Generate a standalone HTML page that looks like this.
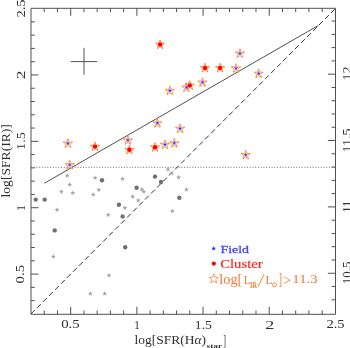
<!DOCTYPE html>
<html><head><meta charset="utf-8"><style>
html,body{margin:0;padding:0;background:#fff;width:350px;height:348px;overflow:hidden;}
svg{display:block;will-change:transform;}
text{font-family:"Liberation Serif",serif;}
</style></head><body>
<svg width="350" height="348" viewBox="0 0 350 348"><path d="M44.23 314.3V310.5M44.23 8.3V12.1M31 300.63H34.8M335.4 299.83H331.6M57.47 314.3V310.5M57.47 8.3V12.1M31 287.35H34.8M335.4 286.55H331.6M70.7 314.3V306.8M70.7 8.3V15.8M31 274.08H38.5M335.4 273.28H327.9M83.94 314.3V310.5M83.94 8.3V12.1M31 260.8H34.8M335.4 260H331.6M97.17 314.3V310.5M97.17 8.3V12.1M31 247.53H34.8M335.4 246.73H331.6M110.41 314.3V310.5M110.41 8.3V12.1M31 234.26H34.8M335.4 233.46H331.6M123.64 314.3V310.5M123.64 8.3V12.1M31 220.98H34.8M335.4 220.18H331.6M136.88 314.3V306.8M136.88 8.3V15.8M31 207.71H38.5M335.4 206.91H327.9M150.11 314.3V310.5M150.11 8.3V12.1M31 194.43H34.8M335.4 193.63H331.6M163.35 314.3V310.5M163.35 8.3V12.1M31 181.16H34.8M335.4 180.36H331.6M176.58 314.3V310.5M176.58 8.3V12.1M31 167.89H34.8M335.4 167.09H331.6M189.82 314.3V310.5M189.82 8.3V12.1M31 154.61H34.8M335.4 153.81H331.6M203.05 314.3V306.8M203.05 8.3V15.8M31 141.34H38.5M335.4 140.54H327.9M216.29 314.3V310.5M216.29 8.3V12.1M31 128.07H34.8M335.4 127.27H331.6M229.52 314.3V310.5M229.52 8.3V12.1M31 114.79H34.8M335.4 113.99H331.6M242.76 314.3V310.5M242.76 8.3V12.1M31 101.52H34.8M335.4 100.72H331.6M255.99 314.3V310.5M255.99 8.3V12.1M31 88.24H34.8M335.4 87.44H331.6M269.23 314.3V306.8M269.23 8.3V15.8M31 74.97H38.5M335.4 74.17H327.9M282.46 314.3V310.5M282.46 8.3V12.1M31 61.7H34.8M335.4 60.9H331.6M295.7 314.3V310.5M295.7 8.3V12.1M31 48.42H34.8M335.4 47.62H331.6M308.93 314.3V310.5M308.93 8.3V12.1M31 35.15H34.8M335.4 34.35H331.6M322.17 314.3V310.5M322.17 8.3V12.1M31 21.87H34.8M335.4 21.07H331.6" stroke="#505050" stroke-width="1" fill="none"/>
<path d="M31.0 8.3H335.5V314.3H31.0Z" fill="none" stroke="#505050" stroke-width="1"/>
<line x1="30.93" y1="167.3" x2="335.4" y2="167.3" stroke="#6a6a6a" stroke-width="1" stroke-dasharray="1 1.735"/>
<line x1="31.0" y1="313.9" x2="335.4" y2="8.6" stroke="#333" stroke-width="1" stroke-dasharray="5.4 3.1"/>
<line x1="44.3" y1="183.3" x2="318.3" y2="25.5" stroke="#505050" stroke-width="1"/>
<path d="M70.7 61.6H97.2M84 47.8V74.8" stroke="#555" stroke-width="1" fill="none"/>
<polygon points="67.2,173 67.85,174.71 69.67,174.8 68.25,175.94 68.73,177.7 67.2,176.7 65.67,177.7 66.15,175.94 64.73,174.8 66.55,174.71" fill="#a6a6a6"/>
<polygon points="69.7,182.1 70.35,183.81 72.17,183.9 70.75,185.04 71.23,186.8 69.7,185.8 68.17,186.8 68.65,185.04 67.23,183.9 69.05,183.81" fill="#a6a6a6"/>
<polygon points="61.4,189 62.05,190.71 63.87,190.8 62.45,191.94 62.93,193.7 61.4,192.7 59.87,193.7 60.35,191.94 58.93,190.8 60.75,190.71" fill="#a6a6a6"/>
<polygon points="72.8,190.3 73.45,192.01 75.27,192.1 73.85,193.24 74.33,195 72.8,194 71.27,195 71.75,193.24 70.33,192.1 72.15,192.01" fill="#a6a6a6"/>
<polygon points="95.1,175.3 95.75,177.01 97.57,177.1 96.15,178.24 96.63,180 95.1,179 93.57,180 94.05,178.24 92.63,177.1 94.45,177.01" fill="#a6a6a6"/>
<polygon points="98.8,187.4 99.45,189.11 101.27,189.2 99.85,190.34 100.33,192.1 98.8,191.1 97.27,192.1 97.75,190.34 96.33,189.2 98.15,189.11" fill="#a6a6a6"/>
<polygon points="93.2,192.1 93.85,193.81 95.67,193.9 94.25,195.04 94.73,196.8 93.2,195.8 91.67,196.8 92.15,195.04 90.73,193.9 92.55,193.81" fill="#a6a6a6"/>
<polygon points="57,207.2 57.65,208.91 59.47,209 58.05,210.14 58.53,211.9 57,210.9 55.47,211.9 55.95,210.14 54.53,209 56.35,208.91" fill="#a6a6a6"/>
<polygon points="108.2,212.2 108.85,213.91 110.67,214 109.25,215.14 109.73,216.9 108.2,215.9 106.67,216.9 107.15,215.14 105.73,214 107.55,213.91" fill="#a6a6a6"/>
<polygon points="122.5,176.3 123.15,178.01 124.97,178.1 123.55,179.24 124.03,181 122.5,180 120.97,181 121.45,179.24 120.03,178.1 121.85,178.01" fill="#a6a6a6"/>
<polygon points="141.8,186.7 142.45,188.41 144.27,188.5 142.85,189.64 143.33,191.4 141.8,190.4 140.27,191.4 140.75,189.64 139.33,188.5 141.15,188.41" fill="#a6a6a6"/>
<polygon points="143.7,189.1 144.35,190.81 146.17,190.9 144.75,192.04 145.23,193.8 143.7,192.8 142.17,193.8 142.65,192.04 141.23,190.9 143.05,190.81" fill="#a6a6a6"/>
<polygon points="132.7,194 133.35,195.71 135.17,195.8 133.75,196.94 134.23,198.7 132.7,197.7 131.17,198.7 131.65,196.94 130.23,195.8 132.05,195.71" fill="#a6a6a6"/>
<polygon points="138.2,197.8 138.85,199.51 140.67,199.6 139.25,200.74 139.73,202.5 138.2,201.5 136.67,202.5 137.15,200.74 135.73,199.6 137.55,199.51" fill="#a6a6a6"/>
<polygon points="124.9,205.2 125.55,206.91 127.37,207 125.95,208.14 126.43,209.9 124.9,208.9 123.37,209.9 123.85,208.14 122.43,207 124.25,206.91" fill="#a6a6a6"/>
<polygon points="168,166.8 168.65,168.51 170.47,168.6 169.05,169.74 169.53,171.5 168,170.5 166.47,171.5 166.95,169.74 165.53,168.6 167.35,168.51" fill="#a6a6a6"/>
<polygon points="171.5,170.9 172.15,172.61 173.97,172.7 172.55,173.84 173.03,175.6 171.5,174.6 169.97,175.6 170.45,173.84 169.03,172.7 170.85,172.61" fill="#a6a6a6"/>
<polygon points="178.6,174.7 179.25,176.41 181.07,176.5 179.65,177.64 180.13,179.4 178.6,178.4 177.07,179.4 177.55,177.64 176.13,176.5 177.95,176.41" fill="#a6a6a6"/>
<polygon points="186.4,187 187.05,188.71 188.87,188.8 187.45,189.94 187.93,191.7 186.4,190.7 184.87,191.7 185.35,189.94 183.93,188.8 185.75,188.71" fill="#a6a6a6"/>
<polygon points="172.3,208.5 172.95,210.21 174.77,210.3 173.35,211.44 173.83,213.2 172.3,212.2 170.77,213.2 171.25,211.44 169.83,210.3 171.65,210.21" fill="#a6a6a6"/>
<polygon points="53.3,254.1 53.95,255.81 55.77,255.9 54.35,257.04 54.83,258.8 53.3,257.8 51.77,258.8 52.25,257.04 50.83,255.9 52.65,255.81" fill="#a6a6a6"/>
<polygon points="109,272.7 109.65,274.41 111.47,274.5 110.05,275.64 110.53,277.4 109,276.4 107.47,277.4 107.95,275.64 106.53,274.5 108.35,274.41" fill="#a6a6a6"/>
<polygon points="90.3,291.1 90.95,292.81 92.77,292.9 91.35,294.04 91.83,295.8 90.3,294.8 88.77,295.8 89.25,294.04 87.83,292.9 89.65,292.81" fill="#a6a6a6"/>
<polygon points="104.7,291.1 105.35,292.81 107.17,292.9 105.75,294.04 106.23,295.8 104.7,294.8 103.17,295.8 103.65,294.04 102.23,292.9 104.05,292.81" fill="#a6a6a6"/>
<circle cx="35.7" cy="199.6" r="2.2" fill="#707070"/>
<circle cx="44.7" cy="199.6" r="2.2" fill="#707070"/>
<circle cx="54.7" cy="230.4" r="2.2" fill="#707070"/>
<circle cx="102" cy="180.3" r="2.2" fill="#707070"/>
<circle cx="136.6" cy="187.8" r="2.2" fill="#707070"/>
<circle cx="118.9" cy="204.8" r="2.2" fill="#707070"/>
<circle cx="122.6" cy="216.4" r="2.2" fill="#707070"/>
<circle cx="125.2" cy="247.3" r="2.2" fill="#707070"/>
<circle cx="155" cy="176.6" r="2.2" fill="#707070"/>
<circle cx="161" cy="182" r="2.2" fill="#707070"/>
<circle cx="179.3" cy="197.8" r="2.2" fill="#707070"/>
<polygon points="67.9,139.1 69.13,141.9 72.18,142.21 69.9,144.25 70.55,147.24 67.9,145.7 65.25,147.24 65.9,144.25 63.62,142.21 66.67,141.9" fill="#ffebde" stroke="#ff8438" stroke-width="0.75" stroke-linejoin="round"/>
<circle cx="67.9" cy="139.3" r="0.7" fill="#ff8438"/>
<circle cx="71.99" cy="142.27" r="0.7" fill="#ff8438"/>
<circle cx="70.43" cy="147.08" r="0.7" fill="#ff8438"/>
<circle cx="65.37" cy="147.08" r="0.7" fill="#ff8438"/>
<circle cx="63.81" cy="142.27" r="0.7" fill="#ff8438"/>
<polygon points="69.7,160.6 70.93,163.4 73.98,163.71 71.7,165.75 72.35,168.74 69.7,167.2 67.05,168.74 67.7,165.75 65.42,163.71 68.47,163.4" fill="#ffebde" stroke="#ff8438" stroke-width="0.75" stroke-linejoin="round"/>
<circle cx="69.7" cy="160.8" r="0.7" fill="#ff8438"/>
<circle cx="73.79" cy="163.77" r="0.7" fill="#ff8438"/>
<circle cx="72.23" cy="168.58" r="0.7" fill="#ff8438"/>
<circle cx="67.17" cy="168.58" r="0.7" fill="#ff8438"/>
<circle cx="65.61" cy="163.77" r="0.7" fill="#ff8438"/>
<polygon points="127.9,135.9 129.13,138.7 132.18,139.01 129.9,141.05 130.55,144.04 127.9,142.5 125.25,144.04 125.9,141.05 123.62,139.01 126.67,138.7" fill="#ffebde" stroke="#ff8438" stroke-width="0.75" stroke-linejoin="round"/>
<circle cx="127.9" cy="136.1" r="0.7" fill="#ff8438"/>
<circle cx="131.99" cy="139.07" r="0.7" fill="#ff8438"/>
<circle cx="130.43" cy="143.88" r="0.7" fill="#ff8438"/>
<circle cx="125.37" cy="143.88" r="0.7" fill="#ff8438"/>
<circle cx="123.81" cy="139.07" r="0.7" fill="#ff8438"/>
<polygon points="157.4,118.8 158.63,121.6 161.68,121.91 159.4,123.95 160.05,126.94 157.4,125.4 154.75,126.94 155.4,123.95 153.12,121.91 156.17,121.6" fill="#ffebde" stroke="#ff8438" stroke-width="0.75" stroke-linejoin="round"/>
<circle cx="157.4" cy="119" r="0.7" fill="#ff8438"/>
<circle cx="161.49" cy="121.97" r="0.7" fill="#ff8438"/>
<circle cx="159.93" cy="126.78" r="0.7" fill="#ff8438"/>
<circle cx="154.87" cy="126.78" r="0.7" fill="#ff8438"/>
<circle cx="153.31" cy="121.97" r="0.7" fill="#ff8438"/>
<polygon points="165,140.3 166.23,143.1 169.28,143.41 167,145.45 167.65,148.44 165,146.9 162.35,148.44 163,145.45 160.72,143.41 163.77,143.1" fill="#ffebde" stroke="#ff8438" stroke-width="0.75" stroke-linejoin="round"/>
<circle cx="165" cy="140.5" r="0.7" fill="#ff8438"/>
<circle cx="169.09" cy="143.47" r="0.7" fill="#ff8438"/>
<circle cx="167.53" cy="148.28" r="0.7" fill="#ff8438"/>
<circle cx="162.47" cy="148.28" r="0.7" fill="#ff8438"/>
<circle cx="160.91" cy="143.47" r="0.7" fill="#ff8438"/>
<polygon points="174.3,138.8 175.53,141.6 178.58,141.91 176.3,143.95 176.95,146.94 174.3,145.4 171.65,146.94 172.3,143.95 170.02,141.91 173.07,141.6" fill="#ffebde" stroke="#ff8438" stroke-width="0.75" stroke-linejoin="round"/>
<circle cx="174.3" cy="139" r="0.7" fill="#ff8438"/>
<circle cx="178.39" cy="141.97" r="0.7" fill="#ff8438"/>
<circle cx="176.83" cy="146.78" r="0.7" fill="#ff8438"/>
<circle cx="171.77" cy="146.78" r="0.7" fill="#ff8438"/>
<circle cx="170.21" cy="141.97" r="0.7" fill="#ff8438"/>
<polygon points="180.1,124.3 181.33,127.1 184.38,127.41 182.1,129.45 182.75,132.44 180.1,130.9 177.45,132.44 178.1,129.45 175.82,127.41 178.87,127.1" fill="#ffebde" stroke="#ff8438" stroke-width="0.75" stroke-linejoin="round"/>
<circle cx="180.1" cy="124.5" r="0.7" fill="#ff8438"/>
<circle cx="184.19" cy="127.47" r="0.7" fill="#ff8438"/>
<circle cx="182.63" cy="132.28" r="0.7" fill="#ff8438"/>
<circle cx="177.57" cy="132.28" r="0.7" fill="#ff8438"/>
<circle cx="176.01" cy="127.47" r="0.7" fill="#ff8438"/>
<polygon points="169.9,86.3 171.13,89.1 174.18,89.41 171.9,91.45 172.55,94.44 169.9,92.9 167.25,94.44 167.9,91.45 165.62,89.41 168.67,89.1" fill="#ffebde" stroke="#ff8438" stroke-width="0.75" stroke-linejoin="round"/>
<circle cx="169.9" cy="86.5" r="0.7" fill="#ff8438"/>
<circle cx="173.99" cy="89.47" r="0.7" fill="#ff8438"/>
<circle cx="172.43" cy="94.28" r="0.7" fill="#ff8438"/>
<circle cx="167.37" cy="94.28" r="0.7" fill="#ff8438"/>
<circle cx="165.81" cy="89.47" r="0.7" fill="#ff8438"/>
<polygon points="186.4,83.1 187.63,85.9 190.68,86.21 188.4,88.25 189.05,91.24 186.4,89.7 183.75,91.24 184.4,88.25 182.12,86.21 185.17,85.9" fill="#ffebde" stroke="#ff8438" stroke-width="0.75" stroke-linejoin="round"/>
<circle cx="186.4" cy="83.3" r="0.7" fill="#ff8438"/>
<circle cx="190.49" cy="86.27" r="0.7" fill="#ff8438"/>
<circle cx="188.93" cy="91.08" r="0.7" fill="#ff8438"/>
<circle cx="183.87" cy="91.08" r="0.7" fill="#ff8438"/>
<circle cx="182.31" cy="86.27" r="0.7" fill="#ff8438"/>
<polygon points="202.5,78 203.73,80.8 206.78,81.11 204.5,83.15 205.15,86.14 202.5,84.6 199.85,86.14 200.5,83.15 198.22,81.11 201.27,80.8" fill="#ffebde" stroke="#ff8438" stroke-width="0.75" stroke-linejoin="round"/>
<circle cx="202.5" cy="78.2" r="0.7" fill="#ff8438"/>
<circle cx="206.59" cy="81.17" r="0.7" fill="#ff8438"/>
<circle cx="205.03" cy="85.98" r="0.7" fill="#ff8438"/>
<circle cx="199.97" cy="85.98" r="0.7" fill="#ff8438"/>
<circle cx="198.41" cy="81.17" r="0.7" fill="#ff8438"/>
<polygon points="236,63.9 237.23,66.7 240.28,67.01 238,69.05 238.65,72.04 236,70.5 233.35,72.04 234,69.05 231.72,67.01 234.77,66.7" fill="#ffebde" stroke="#ff8438" stroke-width="0.75" stroke-linejoin="round"/>
<circle cx="236" cy="64.1" r="0.7" fill="#ff8438"/>
<circle cx="240.09" cy="67.07" r="0.7" fill="#ff8438"/>
<circle cx="238.53" cy="71.88" r="0.7" fill="#ff8438"/>
<circle cx="233.47" cy="71.88" r="0.7" fill="#ff8438"/>
<circle cx="231.91" cy="67.07" r="0.7" fill="#ff8438"/>
<polygon points="239.9,49.1 241.13,51.9 244.18,52.21 241.9,54.25 242.55,57.24 239.9,55.7 237.25,57.24 237.9,54.25 235.62,52.21 238.67,51.9" fill="#ffebde" stroke="#ff8438" stroke-width="0.75" stroke-linejoin="round"/>
<circle cx="239.9" cy="49.3" r="0.7" fill="#ff8438"/>
<circle cx="243.99" cy="52.27" r="0.7" fill="#ff8438"/>
<circle cx="242.43" cy="57.08" r="0.7" fill="#ff8438"/>
<circle cx="237.37" cy="57.08" r="0.7" fill="#ff8438"/>
<circle cx="235.81" cy="52.27" r="0.7" fill="#ff8438"/>
<polygon points="258.7,69.2 259.93,72 262.98,72.31 260.7,74.35 261.35,77.34 258.7,75.8 256.05,77.34 256.7,74.35 254.42,72.31 257.47,72" fill="#ffebde" stroke="#ff8438" stroke-width="0.75" stroke-linejoin="round"/>
<circle cx="258.7" cy="69.4" r="0.7" fill="#ff8438"/>
<circle cx="262.79" cy="72.37" r="0.7" fill="#ff8438"/>
<circle cx="261.23" cy="77.18" r="0.7" fill="#ff8438"/>
<circle cx="256.17" cy="77.18" r="0.7" fill="#ff8438"/>
<circle cx="254.61" cy="72.37" r="0.7" fill="#ff8438"/>
<polygon points="245.7,150.6 246.93,153.4 249.98,153.71 247.7,155.75 248.35,158.74 245.7,157.2 243.05,158.74 243.7,155.75 241.42,153.71 244.47,153.4" fill="#ffebde" stroke="#ff8438" stroke-width="0.75" stroke-linejoin="round"/>
<circle cx="245.7" cy="150.8" r="0.7" fill="#ff8438"/>
<circle cx="249.79" cy="153.77" r="0.7" fill="#ff8438"/>
<circle cx="248.23" cy="158.58" r="0.7" fill="#ff8438"/>
<circle cx="243.17" cy="158.58" r="0.7" fill="#ff8438"/>
<circle cx="241.61" cy="153.77" r="0.7" fill="#ff8438"/>
<polygon points="95,142.3 96.23,145.1 99.28,145.41 97,147.45 97.65,150.44 95,148.9 92.35,150.44 93,147.45 90.72,145.41 93.77,145.1" fill="#ffebde" stroke="#ff8438" stroke-width="0.75" stroke-linejoin="round"/>
<circle cx="95" cy="142.5" r="0.7" fill="#ff8438"/>
<circle cx="99.09" cy="145.47" r="0.7" fill="#ff8438"/>
<circle cx="97.53" cy="150.28" r="0.7" fill="#ff8438"/>
<circle cx="92.47" cy="150.28" r="0.7" fill="#ff8438"/>
<circle cx="90.91" cy="145.47" r="0.7" fill="#ff8438"/>
<polygon points="129.4,145.5 130.63,148.3 133.68,148.61 131.4,150.65 132.05,153.64 129.4,152.1 126.75,153.64 127.4,150.65 125.12,148.61 128.17,148.3" fill="#ffebde" stroke="#ff8438" stroke-width="0.75" stroke-linejoin="round"/>
<circle cx="129.4" cy="145.7" r="0.7" fill="#ff8438"/>
<circle cx="133.49" cy="148.67" r="0.7" fill="#ff8438"/>
<circle cx="131.93" cy="153.48" r="0.7" fill="#ff8438"/>
<circle cx="126.87" cy="153.48" r="0.7" fill="#ff8438"/>
<circle cx="125.31" cy="148.67" r="0.7" fill="#ff8438"/>
<polygon points="155,142.9 156.23,145.7 159.28,146.01 157,148.05 157.65,151.04 155,149.5 152.35,151.04 153,148.05 150.72,146.01 153.77,145.7" fill="#ffebde" stroke="#ff8438" stroke-width="0.75" stroke-linejoin="round"/>
<circle cx="155" cy="143.1" r="0.7" fill="#ff8438"/>
<circle cx="159.09" cy="146.07" r="0.7" fill="#ff8438"/>
<circle cx="157.53" cy="150.88" r="0.7" fill="#ff8438"/>
<circle cx="152.47" cy="150.88" r="0.7" fill="#ff8438"/>
<circle cx="150.91" cy="146.07" r="0.7" fill="#ff8438"/>
<polygon points="160.1,40.2 161.33,43 164.38,43.31 162.1,45.35 162.75,48.34 160.1,46.8 157.45,48.34 158.1,45.35 155.82,43.31 158.87,43" fill="#ffebde" stroke="#ff8438" stroke-width="0.75" stroke-linejoin="round"/>
<circle cx="160.1" cy="40.4" r="0.7" fill="#ff8438"/>
<circle cx="164.19" cy="43.37" r="0.7" fill="#ff8438"/>
<circle cx="162.63" cy="48.18" r="0.7" fill="#ff8438"/>
<circle cx="157.57" cy="48.18" r="0.7" fill="#ff8438"/>
<circle cx="156.01" cy="43.37" r="0.7" fill="#ff8438"/>
<polygon points="189.8,81.1 191.03,83.9 194.08,84.21 191.8,86.25 192.45,89.24 189.8,87.7 187.15,89.24 187.8,86.25 185.52,84.21 188.57,83.9" fill="#ffebde" stroke="#ff8438" stroke-width="0.75" stroke-linejoin="round"/>
<circle cx="189.8" cy="81.3" r="0.7" fill="#ff8438"/>
<circle cx="193.89" cy="84.27" r="0.7" fill="#ff8438"/>
<circle cx="192.33" cy="89.08" r="0.7" fill="#ff8438"/>
<circle cx="187.27" cy="89.08" r="0.7" fill="#ff8438"/>
<circle cx="185.71" cy="84.27" r="0.7" fill="#ff8438"/>
<polygon points="205,63.6 206.23,66.4 209.28,66.71 207,68.75 207.65,71.74 205,70.2 202.35,71.74 203,68.75 200.72,66.71 203.77,66.4" fill="#ffebde" stroke="#ff8438" stroke-width="0.75" stroke-linejoin="round"/>
<circle cx="205" cy="63.8" r="0.7" fill="#ff8438"/>
<circle cx="209.09" cy="66.77" r="0.7" fill="#ff8438"/>
<circle cx="207.53" cy="71.58" r="0.7" fill="#ff8438"/>
<circle cx="202.47" cy="71.58" r="0.7" fill="#ff8438"/>
<circle cx="200.91" cy="66.77" r="0.7" fill="#ff8438"/>
<polygon points="220.1,63.6 221.33,66.4 224.38,66.71 222.1,68.75 222.75,71.74 220.1,70.2 217.45,71.74 218.1,68.75 215.82,66.71 218.87,66.4" fill="#ffebde" stroke="#ff8438" stroke-width="0.75" stroke-linejoin="round"/>
<circle cx="220.1" cy="63.8" r="0.7" fill="#ff8438"/>
<circle cx="224.19" cy="66.77" r="0.7" fill="#ff8438"/>
<circle cx="222.63" cy="71.58" r="0.7" fill="#ff8438"/>
<circle cx="217.57" cy="71.58" r="0.7" fill="#ff8438"/>
<circle cx="216.01" cy="66.77" r="0.7" fill="#ff8438"/>
<polygon points="67.9,141.45 68.43,142.67 69.75,142.8 68.76,143.68 69.05,144.98 67.9,144.3 66.75,144.98 67.04,143.68 66.05,142.8 67.37,142.67" fill="#2a2aff" stroke="#8c8cff" stroke-width="0.35"/>
<polygon points="69.7,162.95 70.23,164.17 71.55,164.3 70.56,165.18 70.85,166.48 69.7,165.8 68.55,166.48 68.84,165.18 67.85,164.3 69.17,164.17" fill="#2a2aff" stroke="#8c8cff" stroke-width="0.35"/>
<polygon points="127.9,138.25 128.43,139.47 129.75,139.6 128.76,140.48 129.05,141.78 127.9,141.1 126.75,141.78 127.04,140.48 126.05,139.6 127.37,139.47" fill="#2a2aff" stroke="#8c8cff" stroke-width="0.35"/>
<polygon points="157.4,121.15 157.93,122.37 159.25,122.5 158.26,123.38 158.55,124.68 157.4,124 156.25,124.68 156.54,123.38 155.55,122.5 156.87,122.37" fill="#2a2aff" stroke="#8c8cff" stroke-width="0.35"/>
<polygon points="165,142.65 165.53,143.87 166.85,144 165.86,144.88 166.15,146.18 165,145.5 163.85,146.18 164.14,144.88 163.15,144 164.47,143.87" fill="#2a2aff" stroke="#8c8cff" stroke-width="0.35"/>
<polygon points="174.3,141.15 174.83,142.37 176.15,142.5 175.16,143.38 175.45,144.68 174.3,144 173.15,144.68 173.44,143.38 172.45,142.5 173.77,142.37" fill="#2a2aff" stroke="#8c8cff" stroke-width="0.35"/>
<polygon points="180.1,126.65 180.63,127.87 181.95,128 180.96,128.88 181.25,130.18 180.1,129.5 178.95,130.18 179.24,128.88 178.25,128 179.57,127.87" fill="#2a2aff" stroke="#8c8cff" stroke-width="0.35"/>
<polygon points="169.9,88.65 170.43,89.87 171.75,90 170.76,90.88 171.05,92.18 169.9,91.5 168.75,92.18 169.04,90.88 168.05,90 169.37,89.87" fill="#2a2aff" stroke="#8c8cff" stroke-width="0.35"/>
<polygon points="186.4,85.45 186.93,86.67 188.25,86.8 187.26,87.68 187.55,88.98 186.4,88.3 185.25,88.98 185.54,87.68 184.55,86.8 185.87,86.67" fill="#2a2aff" stroke="#8c8cff" stroke-width="0.35"/>
<polygon points="202.5,80.35 203.03,81.57 204.35,81.7 203.36,82.58 203.65,83.88 202.5,83.2 201.35,83.88 201.64,82.58 200.65,81.7 201.97,81.57" fill="#2a2aff" stroke="#8c8cff" stroke-width="0.35"/>
<polygon points="236,66.25 236.53,67.47 237.85,67.6 236.86,68.48 237.15,69.78 236,69.1 234.85,69.78 235.14,68.48 234.15,67.6 235.47,67.47" fill="#2a2aff" stroke="#8c8cff" stroke-width="0.35"/>
<polygon points="239.9,51.45 240.43,52.67 241.75,52.8 240.76,53.68 241.05,54.98 239.9,54.3 238.75,54.98 239.04,53.68 238.05,52.8 239.37,52.67" fill="#2a2aff" stroke="#8c8cff" stroke-width="0.35"/>
<polygon points="258.7,71.55 259.23,72.77 260.55,72.9 259.56,73.78 259.85,75.08 258.7,74.4 257.55,75.08 257.84,73.78 256.85,72.9 258.17,72.77" fill="#2a2aff" stroke="#8c8cff" stroke-width="0.35"/>
<polygon points="245.7,152.95 246.23,154.17 247.55,154.3 246.56,155.18 246.85,156.48 245.7,155.8 244.55,156.48 244.84,155.18 243.85,154.3 245.17,154.17" fill="#2a2aff" stroke="#8c8cff" stroke-width="0.35"/>
<circle cx="95" cy="146.6" r="2.2" fill="#ff0000"/>
<circle cx="129.4" cy="149.8" r="2.2" fill="#ff0000"/>
<circle cx="155" cy="147.2" r="2.2" fill="#ff0000"/>
<circle cx="160.1" cy="44.5" r="2.2" fill="#ff0000"/>
<circle cx="189.8" cy="85.4" r="2.2" fill="#ff0000"/>
<circle cx="205" cy="67.9" r="2.2" fill="#ff0000"/>
<circle cx="220.1" cy="67.9" r="2.2" fill="#ff0000"/>
<polygon points="213.7,246.1 214.35,247.71 216.08,247.83 214.75,248.94 215.17,250.62 213.7,249.7 212.23,250.62 212.65,248.94 211.32,247.83 213.05,247.71" fill="#3838ff"/>
<circle cx="213.8" cy="263.6" r="2.1" fill="#ff0000"/>
<polygon points="213.8,274.4 215.06,277.16 218.08,277.51 215.84,279.56 216.45,282.54 213.8,281.05 211.15,282.54 211.76,279.56 209.52,277.51 212.54,277.16" fill="none" stroke="#ff8438" stroke-width="0.8" stroke-linejoin="round"/>
<circle cx="213.8" cy="274.55" r="0.55" fill="#ff8438"/>
<circle cx="217.94" cy="277.56" r="0.55" fill="#ff8438"/>
<circle cx="216.36" cy="282.42" r="0.55" fill="#ff8438"/>
<circle cx="211.24" cy="282.42" r="0.55" fill="#ff8438"/>
<circle cx="209.66" cy="277.56" r="0.55" fill="#ff8438"/>
<g font-family="Liberation Serif"><text transform="translate(61.18 328.45) scale(1.2357 0.9818)" x="0" y="0" font-size="12" fill="#303030" >0.5</text><text transform="translate(134.18 328.8) scale(0.9176 1.0000)" x="0" y="0" font-size="12" fill="#303030" >1</text><text transform="translate(194.75 328.55) scale(1.1481 1.0182)" x="0" y="0" font-size="12" fill="#303030" >1.5</text><text transform="translate(265.14 328.9) scale(1.5158 1.0750)" x="0" y="0" font-size="12" fill="#303030" >2</text><text transform="translate(326.39 328.35) scale(1.2143 0.9939)" x="0" y="0" font-size="12" fill="#303030" >2.5</text><text transform="rotate(-90) translate(-283.41 24.44) scale(1.2286 1.0303)" x="0" y="0" font-size="12" fill="#303030" >0.5</text><text transform="rotate(-90) translate(-211.11 25) scale(1.0118 1.1125)" x="0" y="0" font-size="12" fill="#303030" >1</text><text transform="rotate(-90) translate(-149.88 24.83) scale(1.1778 1.0788)" x="0" y="0" font-size="12" fill="#303030" >1.5</text><text transform="rotate(-90) translate(-79.23 25) scale(1.4526 1.1250)" x="0" y="0" font-size="12" fill="#303030" >2</text><text transform="rotate(-90) translate(-17.5 24.73) scale(1.2000 1.0788)" x="0" y="0" font-size="12" fill="#303030" >2.5</text><text transform="rotate(-90) translate(-284.29 350.54) scale(1.0923 1.0545)" x="0" y="0" font-size="12" fill="#303030" >10.5</text><text transform="rotate(-90) translate(-212.86 350.8) scale(1.0564 1.0750)" x="0" y="0" font-size="12" fill="#303030" >11</text><text transform="rotate(-90) translate(-152.47 350.53) scale(1.1737 1.0788)" x="0" y="0" font-size="12" fill="#303030" >11.5</text><text transform="rotate(-90) translate(-80.58 350.8) scale(1.1805 1.1000)" x="0" y="0" font-size="12" fill="#303030" >12</text><text transform="translate(134.52 344.28) scale(1.1254 0.9674)" x="0" y="0" font-size="12" fill="#303030" >log[SFR(H<tspan font-style="italic">&#945;</tspan>)</text><text transform="translate(206.61 347.6) scale(1.1538 0.8444)" x="0" y="0" font-size="8" fill="#303030" font-weight="bold">star</text><text transform="translate(223.35 344.85) scale(0.6909 1.2300)" x="0" y="0" font-size="12" fill="#303030" >]</text><text transform="rotate(-90) translate(-197.48 10.11) scale(1.1339 0.9953)" x="0" y="0" font-size="12" fill="#303030" >log[SFR(IR)]</text><text transform="translate(220.41 252.57) scale(1.1592 0.9371)" x="0" y="0" font-size="12" fill="#4545ff" stroke="#4545ff" stroke-width="0.3">Field</text><text transform="translate(220.19 268.05) scale(1.2265 1.0118)" x="0" y="0" font-size="12" fill="#ff1e1e" stroke="#ff1e1e" stroke-width="0.15">Cluster</text><text transform="translate(219.34 283.77) scale(1.0571 1.0449)" x="0" y="0" font-size="13.5" fill="#f57a32" >log[</text><text transform="translate(243.79 284) scale(0.8286 0.9714)" x="0" y="0" font-size="13.5" fill="#f57a32" >L</text><text transform="translate(250 287.5) scale(0.7886 0.9333)" x="0" y="0" font-size="8" fill="#f57a32" font-weight="bold">IR</text><text transform="translate(265.57 284) scale(0.8571 0.9600)" x="0" y="0" font-size="13.5" fill="#f57a32" >L</text><text transform="translate(278.83 284.76) scale(0.7333 1.1636)" x="0" y="0" font-size="13.5" fill="#f57a32" >]</text><text transform="translate(282.96 284.84) scale(1.1200 1.1538)" x="0" y="0" font-size="13.5" fill="#f57a32" >&gt;</text><text transform="translate(292.37 283.36) scale(1.2263 0.9576)" x="0" y="0" font-size="12" fill="#f57a32" >11.3</text></g>
<line x1="257.9" y1="287.0" x2="264.1" y2="274.2" stroke="#f57a32" stroke-width="0.9"/>
<circle cx="274.5" cy="284.8" r="2.1" fill="none" stroke="#f57a32" stroke-width="0.8"/><circle cx="274.5" cy="284.8" r="0.5" fill="#f57a32"/></svg>
</body></html>
